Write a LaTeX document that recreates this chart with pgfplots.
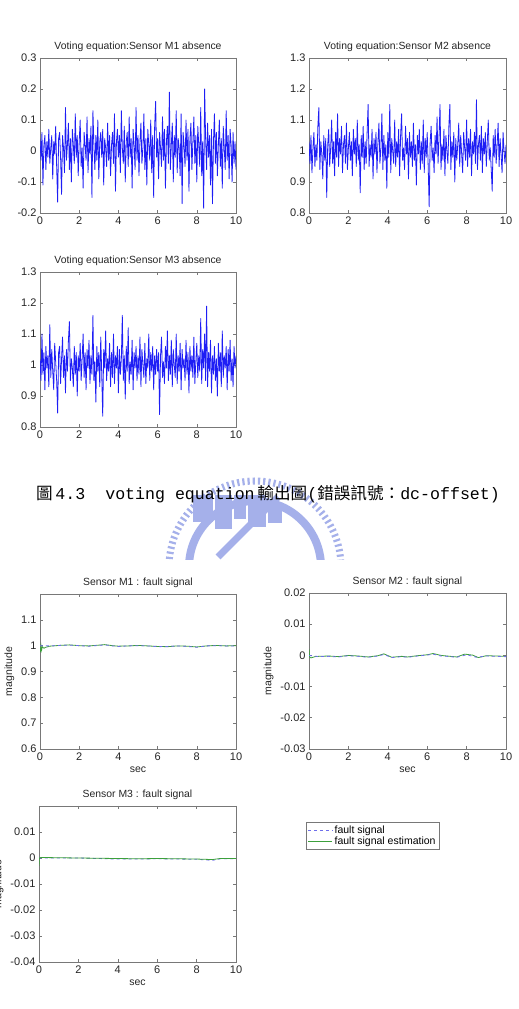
\documentclass[border=0pt]{standalone}
\usepackage{fontspec}
\setmainfont{Liberation Sans}
\newfontfamily\mono{Liberation Mono}
\newfontfamily\cjk{Noto Sans CJK TC}
\usepackage{pgfplots}
\usepackage{pgfplotstable}
\pgfplotsset{compat=1.18}

\definecolor{wm}{RGB}{165,176,234}
\definecolor{fsig}{RGB}{110,110,235}
\definecolor{fest}{RGB}{60,160,60}
\definecolor{axg}{RGB}{120,120,120}
\definecolor{nblue}{RGB}{30,30,245}

\pgfplotstableread[row sep=\\,header=false]{
0.04\\ -0.03\\ 0.06\\ -0.11\\ 0.02\\ 0.05\\ -0.06\\ 0.03\\ -0.02\\ 0.07\\ -0.04\\ 0.01\\ 0.05\\ -0.09\\ 0.03\\ -0.01\\ 0.08\\ -0.05\\ -0.165\\ 0.04\\
0.06\\ -0.02\\ -0.14\\ 0.05\\ 0.01\\ -0.07\\ 0.14\\ -0.03\\ 0.02\\ 0.09\\ -0.06\\ 0.04\\ -0.1\\ 0.07\\ 0.02\\ -0.04\\ 0.12\\ -0.02\\ 0.05\\ -0.08\\
0.03\\ 0.1\\ -0.05\\ 0.01\\ -0.12\\ 0.06\\ 0.02\\ -0.03\\ 0.11\\ -0.07\\ 0.04\\ -0.01\\ 0.08\\ -0.15\\ 0.13\\ 0.02\\ -0.06\\ 0.05\\ -0.03\\ 0.1\\
-0.09\\ 0.03\\ 0.06\\ -0.02\\ 0.07\\ -0.11\\ 0.04\\ 0.01\\ -0.05\\ 0.09\\ -0.03\\ 0.05\\ -0.08\\ 0.02\\ 0.06\\ -0.04\\ 0.12\\ -0.13\\ 0.03\\ 0.07\\
-0.02\\ 0.05\\ -0.07\\ 0.13\\ 0.01\\ -0.04\\ 0.08\\ -0.1\\ 0.03\\ 0.06\\ -0.05\\ 0.11\\ -0.02\\ 0.04\\ -0.12\\ 0.07\\ 0.02\\ -0.06\\ 0.14\\ -0.03\\
0.05\\ -0.08\\ 0.03\\ 0.09\\ -0.04\\ 0.01\\ 0.12\\ -0.06\\ 0.04\\ -0.11\\ 0.07\\ 0.02\\ -0.03\\ 0.1\\ -0.07\\ 0.05\\ -0.15\\ 0.08\\ 0.16\\ -0.02\\
0.04\\ -0.09\\ 0.06\\ 0.01\\ -0.05\\ 0.11\\ -0.03\\ 0.07\\ -0.12\\ 0.03\\ 0.08\\ -0.04\\ 0.19\\ -0.06\\ 0.02\\ 0.09\\ -0.1\\ 0.05\\ -0.02\\ 0.13\\
-0.07\\ 0.04\\ 0.01\\ -0.08\\ 0.12\\ -0.17\\ 0.06\\ 0.02\\ -0.05\\ 0.1\\ -0.03\\ 0.07\\ -0.13\\ 0.04\\ 0.09\\ -0.06\\ 0.03\\ 0.11\\ -0.04\\ 0.05\\
-0.1\\ 0.08\\ 0.02\\ -0.05\\ 0.14\\ -0.08\\ 0.03\\ -0.185\\ 0.2\\ 0.04\\ -0.06\\ 0.09\\ -0.02\\ 0.05\\ -0.11\\ 0.07\\ -0.17\\ 0.03\\ 0.12\\ -0.04\\
0.06\\ -0.08\\ 0.02\\ 0.1\\ -0.05\\ 0.04\\ -0.12\\ 0.08\\ 0.01\\ -0.06\\ 0.13\\ -0.03\\ 0.05\\ -0.09\\ 0.07\\ 0.02\\ -0.1\\ 0.06\\ -0.04\\ 0.03\\ -0.06\\
}\mone

\pgfplotstableread[row sep=\\,header=false]{
1.03\\ 0.96\\ 1.05\\ 0.93\\ 1.01\\ 1.06\\ 0.95\\ 1.02\\ 0.97\\ 1.08\\ 1.14\\ 0.94\\ 1.03\\ 0.99\\ 0.91\\ 1.05\\ 0.97\\ 1.04\\ 0.85\\ 1.02\\
1.07\\ 0.95\\ 1.01\\ 1.1\\ 0.96\\ 1.03\\ 0.92\\ 1.06\\ 0.98\\ 1.12\\ 0.95\\ 1.04\\ 0.99\\ 1.08\\ 0.93\\ 1.02\\ 1.05\\ 0.96\\ 1.09\\ 0.94\\
1.01\\ 1.06\\ 0.97\\ 1.03\\ 0.92\\ 1.07\\ 0.99\\ 1.04\\ 0.95\\ 1.1\\ 0.97\\ 1.02\\ 0.865\\ 1.05\\ 0.98\\ 1.08\\ 0.94\\ 1.03\\ 0.96\\ 1.06\\
1.15\\ 0.95\\ 1.02\\ 0.98\\ 1.07\\ 0.91\\ 1.04\\ 0.99\\ 1.06\\ 0.93\\ 1.03\\ 1.09\\ 0.96\\ 1.01\\ 1.12\\ 0.94\\ 1.05\\ 0.97\\ 1.02\\ 0.88\\
1.06\\ 0.98\\ 1.15\\ 0.93\\ 1.04\\ 1.0\\ 0.96\\ 1.1\\ 0.95\\ 1.03\\ 0.98\\ 1.07\\ 0.92\\ 1.05\\ 1.12\\ 0.97\\ 1.01\\ 0.94\\ 1.08\\ 0.99\\
1.04\\ 0.91\\ 1.06\\ 0.98\\ 1.03\\ 0.95\\ 1.09\\ 0.97\\ 1.02\\ 0.89\\ 1.05\\ 0.99\\ 1.07\\ 0.94\\ 1.03\\ 0.96\\ 1.1\\ 0.93\\ 1.04\\ 0.98\\
1.06\\ 0.95\\ 0.82\\ 1.03\\ 1.08\\ 0.97\\ 1.01\\ 0.93\\ 1.05\\ 0.99\\ 1.11\\ 0.96\\ 1.04\\ 1.15\\ 0.94\\ 1.02\\ 0.97\\ 1.07\\ 0.92\\ 1.05\\
1.0\\ 0.96\\ 1.08\\ 1.15\\ 0.94\\ 1.03\\ 0.98\\ 1.06\\ 0.9\\ 1.04\\ 0.97\\ 1.02\\ 1.09\\ 0.95\\ 1.05\\ 0.99\\ 0.93\\ 1.06\\ 1.01\\ 0.97\\
1.1\\ 0.95\\ 1.04\\ 0.98\\ 1.07\\ 0.92\\ 1.03\\ 0.99\\ 1.06\\ 0.96\\ 1.165\\ 0.94\\ 1.02\\ 1.05\\ 0.97\\ 1.08\\ 0.93\\ 1.04\\ 0.99\\ 1.06\\
0.95\\ 1.03\\ 1.1\\ 0.97\\ 1.01\\ 0.94\\ 0.87\\ 1.05\\ 0.98\\ 1.07\\ 0.96\\ 1.02\\ 1.09\\ 0.95\\ 1.04\\ 0.99\\ 0.93\\ 1.06\\ 1.0\\ 0.96\\ 1.02\\
}\mtwo

\pgfplotstableread[row sep=\\,header=false]{
1.02\\ 0.95\\ 1.1\\ 0.97\\ 1.04\\ 0.92\\ 1.06\\ 0.99\\ 1.03\\ 0.93\\ 1.13\\ 0.96\\ 1.05\\ 0.98\\ 0.92\\ 1.07\\ 1.01\\ 0.95\\ 0.845\\ 1.04\\
1.06\\ 0.94\\ 1.02\\ 1.09\\ 0.96\\ 1.03\\ 0.91\\ 1.05\\ 0.98\\ 1.08\\ 1.14\\ 0.95\\ 1.02\\ 0.99\\ 0.93\\ 1.06\\ 0.97\\ 1.04\\ 0.9\\ 1.03\\
0.98\\ 1.07\\ 0.95\\ 1.02\\ 1.1\\ 0.96\\ 1.04\\ 0.92\\ 1.05\\ 0.99\\ 1.08\\ 0.94\\ 1.03\\ 0.97\\ 1.16\\ 0.95\\ 1.01\\ 0.88\\ 1.06\\ 0.98\\
1.04\\ 0.93\\ 1.09\\ 0.97\\ 0.835\\ 1.05\\ 0.99\\ 1.11\\ 0.95\\ 1.02\\ 0.98\\ 1.07\\ 0.93\\ 1.04\\ 0.96\\ 1.1\\ 0.94\\ 1.03\\ 0.99\\ 1.06\\
0.91\\ 1.05\\ 0.97\\ 1.02\\ 1.16\\ 0.95\\ 1.03\\ 0.89\\ 1.06\\ 0.98\\ 1.12\\ 0.94\\ 1.01\\ 0.97\\ 1.08\\ 0.92\\ 1.04\\ 0.99\\ 1.06\\ 0.95\\
1.03\\ 0.97\\ 1.09\\ 0.93\\ 1.05\\ 1.0\\ 0.96\\ 1.07\\ 0.94\\ 1.02\\ 0.99\\ 1.1\\ 0.95\\ 1.04\\ 0.98\\ 1.06\\ 0.92\\ 1.03\\ 0.97\\ 1.05\\
0.98\\ 1.04\\ 0.84\\ 1.03\\ 1.09\\ 0.96\\ 1.01\\ 0.94\\ 1.06\\ 0.99\\ 1.11\\ 0.95\\ 1.03\\ 0.97\\ 1.08\\ 0.93\\ 1.05\\ 1.0\\ 0.96\\ 1.1\\
0.94\\ 1.03\\ 0.98\\ 1.07\\ 0.92\\ 1.05\\ 0.99\\ 1.02\\ 0.95\\ 1.08\\ 0.97\\ 1.04\\ 0.91\\ 1.06\\ 0.98\\ 1.03\\ 0.96\\ 1.09\\ 0.94\\ 1.01\\
1.07\\ 0.96\\ 1.03\\ 0.98\\ 1.15\\ 0.94\\ 1.05\\ 0.99\\ 1.1\\ 0.95\\ 1.19\\ 0.93\\ 1.04\\ 0.98\\ 1.08\\ 0.91\\ 1.03\\ 0.97\\ 1.06\\ 0.95\\
1.02\\ 0.9\\ 1.07\\ 0.98\\ 1.04\\ 0.93\\ 1.11\\ 0.96\\ 1.03\\ 0.99\\ 1.06\\ 0.92\\ 1.05\\ 0.98\\ 1.08\\ 0.95\\ 1.02\\ 0.93\\ 1.06\\ 0.99\\ 1.03\\
}\mthree

\pgfplotsset{
  mat/.style={
    scale only axis, width=196bp, height=155bp,
    xmin=0, xmax=10, xtick={0,2,4,6,8,10},
    tick align=inside, tick pos=both,
    major tick length=3bp,
    axis line style={axg, line width=0.6bp},
    tick style={axg, line width=0.6bp},
    ticklabel style={font=\fontsize{11bp}{12bp}\selectfont, text=black!85},
    /pgf/number format/assume math mode=true,
    title style={font=\fontsize{10.4bp}{12bp}\selectfont, text=black!85, yshift=-3bp},
    label style={font=\fontsize{10.5bp}{12bp}\selectfont, text=black!85},
    scaled ticks=false,
    clip=true,
  },
  noise/.style={nblue, line width=0.8bp, line join=round},
}

\begin{document}
\begin{tikzpicture}[x=1bp,y=1bp]
\useasboundingbox (0,0) rectangle (519,1009);
\fill[white] (0,0) rectangle (519,1009);

% watermark
\begin{scope}
\clip (140,449) rectangle (380,545);
\draw[wm, line width=7bp, dash pattern=on 2.2bp off 3bp] (255,442) circle (86);
\draw[wm, line width=8bp] (255,442) circle (66);
\fill[wm] (193,487) rectangle (213,514);
\fill[wm] (215,480) rectangle (232,514);
\fill[wm] (234,490) rectangle (246,514);
\fill[wm] (248,482) rectangle (266,514);
\fill[wm] (268,486) rectangle (282,506);
\draw[wm, line width=7bp] (278,512) -- (218,452);
\end{scope}

\node[anchor=base, inner sep=0pt] at (268,509) {\fontsize{16.6bp}{19bp}\selectfont{\cjk 圖}\,{\mono 4.3\ \ voting equation}\,{\cjk 輸出圖}{\mono (}{\cjk 錯誤訊號：}{\mono dc-offset)}};

% Plot 1
\begin{axis}[mat, at={(40bp,796bp)}, anchor=south west,
  ymin=-0.2, ymax=0.3, ytick={-0.2,-0.1,0,0.1,0.2,0.3},
  yticklabels={-0.2,-0.1,0,0.1,0.2,0.3},
  title={Voting equation:Sensor M1 absence}]
\addplot[noise] table[x expr=\coordindex/20, y index=0] {\mone};
\end{axis}

% Plot 2
\begin{axis}[mat, width=197bp, at={(309bp,796bp)}, anchor=south west,
  ymin=0.8, ymax=1.3, ytick={0.8,0.9,1,1.1,1.2,1.3},
  yticklabels={0.8,0.9,1,1.1,1.2,1.3},
  title={Voting equation:Sensor M2 absence}]
\addplot[noise] table[x expr=\coordindex/20, y index=0] {\mtwo};
\end{axis}

% Plot 3
\begin{axis}[mat, at={(40bp,582bp)}, anchor=south west,
  ymin=0.8, ymax=1.3, ytick={0.8,0.9,1,1.1,1.2,1.3},
  yticklabels={0.8,0.9,1,1.1,1.2,1.3},
  title={Voting equation:Sensor M3 absence}]
\addplot[noise] table[x expr=\coordindex/20, y index=0] {\mthree};
\end{axis}

% Plot 4
\begin{axis}[mat, at={(40bp,260bp)}, anchor=south west,
  ymin=0.6, ymax=1.2, ytick={0.6,0.7,0.8,0.9,1,1.1},
  yticklabels={0.6,0.7,0.8,0.9,1,1.1},
  title={Sensor M1 : fault signal}, xlabel={sec}, ylabel={magnitude}]
\addplot[fest, line width=0.8bp] coordinates {(0,0.99) (0.02,0.975) (0.05,1.0) (0.08,0.982) (0.12,0.996) (0.2,0.99) (0.3,0.994) (0.5,0.998) (1,1.001) (1.5,1.003) (2,1.0) (2.5,0.999) (3,1.002) (3.3,1.004) (3.7,1.0) (4,0.998) (4.5,0.999) (5,1.001) (5.5,0.999) (6,0.997) (6.5,0.996) (7,0.999) (7.5,0.998) (8,0.995) (8.5,0.999) (9,1.001) (9.5,0.999) (10,1.0)};
\addplot[fsig, dashed, line width=0.8bp] coordinates {(0,1) (0.5,0.999) (1,1.001) (1.5,1.002) (2,1.0) (2.5,0.998) (3,1.001) (3.3,1.003) (3.7,0.999) (4,0.997) (4.5,0.999) (5,1.0) (5.5,0.999) (6,0.996) (6.5,0.997) (7,0.999) (7.5,0.997) (8,0.994) (8.5,0.999) (9,1.0) (9.5,0.999) (10,0.999)};
\end{axis}

% Plot 5
\begin{axis}[mat, width=197bp, height=156bp, at={(309bp,260bp)}, anchor=south west,
  ymin=-0.03, ymax=0.02, ytick={-0.03,-0.02,-0.01,0,0.01,0.02},
  yticklabels={-0.03,-0.02,-0.01,0,0.01,0.02},
  title={Sensor M2 : fault signal}, xlabel={sec}, ylabel={magnitude}]
\addplot[fest, line width=0.8bp] coordinates {(0,0.002) (0.03,-0.0005) (0.1,-0.0008) (0.3,-0.0004) (0.5,-0.0003) (1,-0.0002) (1.5,-0.0004) (2,0.0) (2.5,-0.0002) (3,-0.0005) (3.5,-0.0001) (3.8,0.0005) (4.2,-0.0006) (4.7,-0.0003) (5,-0.0005) (5.5,-0.0001) (6,0.0002) (6.3,0.0006) (6.7,0.0) (7,-0.0002) (7.5,-0.0005) (7.9,0.0004) (8.3,0.0001) (8.6,-0.0007) (9,-0.0001) (9.5,-0.0002) (10,-0.0003)};
\addplot[fsig, dashed, line width=0.8bp] coordinates {(0,0) (0.5,-0.0004) (1,-0.0003) (1.5,-0.0005) (2,-0.0001) (2.5,-0.0003) (3,-0.0006) (3.5,-0.0002) (3.8,0.0003) (4.2,-0.0007) (4.7,-0.0004) (5,-0.0006) (5.5,-0.0002) (6,0.0001) (6.3,0.0004) (6.7,-0.0002) (7,-0.0003) (7.5,-0.0006) (8,0.0002) (8.5,-0.0006) (9,-0.0002) (9.5,-0.0003) (10,-0.0004)};
\end{axis}

% Plot 6
\begin{axis}[mat, width=197bp, height=156bp, at={(39bp,47bp)}, anchor=south west,
  ymin=-0.04, ymax=0.02, ytick={-0.04,-0.03,-0.02,-0.01,0,0.01},
  yticklabels={-0.04,-0.03,-0.02,-0.01,0,0.01},
  title={Sensor M3 : fault signal}, xlabel={sec}, ylabel={magnitude},
  legend style={at={(1.355,0.897)}, anchor=north west, draw=axg,
    font=\fontsize{10.5bp}{11bp}\selectfont,
    inner sep=1.5bp, row sep=-2bp, cells={anchor=west}},
  legend image code/.code={\draw[#1] (0bp,0.3bp) -- (24bp,0.3bp);}]
\addlegendimage{color=fsig, dashed, line width=1bp}
\addlegendentry{fault signal}
\addlegendimage{color=fest, solid, line width=1bp}
\addlegendentry{fault signal estimation}
\addplot[fsig, dashed, line width=0.8bp, forget plot] coordinates {(0,0) (1,0) (2,0) (3,-0.0002) (4,-0.0004) (5,-0.0004) (6,-0.0003) (7,-0.0004) (8,-0.0005) (8.8,-0.0009) (9.2,-0.0003) (10,-0.0003)};
\addplot[fest, line width=0.8bp, forget plot] coordinates {(0,-0.003) (0.02,0) (0.1,0.0002) (1,0.0001) (2,0.0) (3,-0.0001) (4,-0.0002) (5,-0.0003) (6,-0.0002) (7,-0.0003) (8,-0.0004) (8.8,-0.0006) (9.2,-0.0002) (10,-0.0002)};
\end{axis}
\end{tikzpicture}
\end{document}
